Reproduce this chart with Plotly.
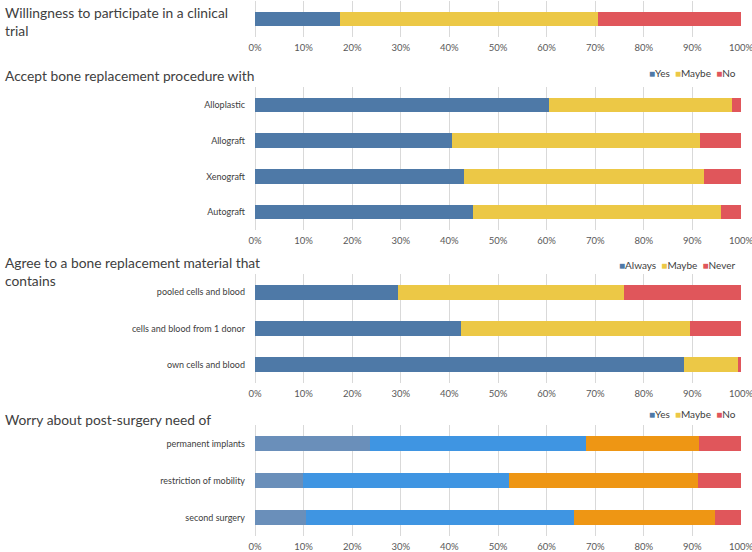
import plotly.graph_objects as go

W, H = 752, 552

# ---- data ----
p1_cats = ["trial"]
p1_yes = [17.5]
p1_maybe = [53.0]
p1_no = [29.5]

p2_cats = ["Alloplastic", "Allograft", "Xenograft", "Autograft"]
p2_yes = [60.4, 40.6, 43.1, 44.9]
p2_maybe = [37.8, 51.0, 49.2, 51.0]
p2_no = [1.8, 8.4, 7.7, 4.1]

p3_cats = ["pooled cells and blood", "cells and blood from 1 donor", "own cells and blood"]
p3_always = [29.4, 42.3, 88.3]
p3_maybe = [46.6, 47.3, 11.1]
p3_never = [24.0, 10.4, 0.6]

p4_cats = ["permanent implants", "restriction of mobility", "second surgery"]
p4_s1 = [23.7, 9.8, 10.5]
p4_s2 = [44.5, 42.5, 55.2]
p4_s3 = [23.2, 38.9, 29.0]
p4_s4 = [8.6, 8.8, 5.3]

titles = ["Willingness to participate in a clinical<br>trial",
          "Accept bone replacement procedure with",
          "Agree to a bone replacement material that<br>contains",
          "Worry about post-surgery need of"]
legend_names = [["Yes", "Maybe", "No"], ["Always", "Maybe", "Never"], ["Yes", "Maybe", "No"]]

BLUE, YELLOW, RED = "#4e79a7", "#ecc846", "#e0565b"
GRAYBLUE, BRIGHTBLUE, ORANGE = "#6a8fba", "#3f95e2", "#ee9614"
FONT = "Lato"

def py(px):
    return 1 - px / H

fig = go.Figure()

def add(cats, vals, name, color, ax):
    fig.add_trace(go.Bar(y=cats, x=vals, name=name, orientation="h",
                         marker=dict(color=color, line=dict(width=0)),
                         xaxis="x" + ax, yaxis="y" + ax, showlegend=False))

add(p1_cats, p1_yes, "Yes", BLUE, "")
add(p1_cats, p1_maybe, "Maybe", YELLOW, "")
add(p1_cats, p1_no, "No", RED, "")

add(p2_cats, p2_yes, "Yes", BLUE, "2")
add(p2_cats, p2_maybe, "Maybe", YELLOW, "2")
add(p2_cats, p2_no, "No", RED, "2")

add(p3_cats, p3_always, "Always", BLUE, "3")
add(p3_cats, p3_maybe, "Maybe", YELLOW, "3")
add(p3_cats, p3_never, "Never", RED, "3")

add(p4_cats, p4_s1, "Yes", GRAYBLUE, "4")
add(p4_cats, p4_s2, "Yes", BRIGHTBLUE, "4")
add(p4_cats, p4_s3, "Maybe", ORANGE, "4")
add(p4_cats, p4_s4, "No", RED, "4")

x0, x1 = 255 / W, 741 / W
domains = [(1, 37), (87, 230), (274, 383), (425, 536)]

xax = dict(range=[0, 100], dtick=10, ticksuffix="%", showgrid=True,
           gridcolor="#d9d9d9", gridwidth=1, zeroline=True, zerolinecolor="#d9d9d9",
           zerolinewidth=1, showline=False, ticks="", ticklabelstandoff=3,
           automargin=False, ticklabeloverflow="allow",
           tickfont=dict(family=FONT, size=9.5, color="#595959"),
           domain=[x0, x1], fixedrange=True)
layout = dict(template="none", width=W, height=H, margin=dict(l=0, r=0, t=0, b=0, pad=0),
              paper_bgcolor="white", plot_bgcolor="white",
              barmode="stack", bargap=0.59, showlegend=False,
              font=dict(family=FONT, color="#404040"))
for i, (a, b) in enumerate(domains):
    sfx = "" if i == 0 else str(i + 1)
    xa = dict(xax)
    xa["anchor"] = "y" + sfx
    ya = dict(domain=[py(b), py(a)], anchor="x" + sfx, autorange="reversed",
              showgrid=False, zeroline=False, showline=False, ticks="",
              ticklabelstandoff=9, fixedrange=True, automargin=False,
              showticklabels=(i != 0),
              tickfont=dict(family=FONT, size=9, color="#404040"))
    layout["xaxis" + sfx] = xa
    layout["yaxis" + sfx] = ya

fig.update_layout(**layout)

title_y = [22, 75, 271, 419]
for t, yy in zip(titles, title_y):
    fig.add_annotation(text=t, xref="paper", yref="paper", x=3 / W, y=py(yy),
                       xanchor="left", yanchor="middle", align="left", showarrow=False,
                       font=dict(family=FONT, size=13.8, color="#404040"))

# compact legends (Excel style: small square + label)
leg_colors = [BLUE, YELLOW, RED]
for names, yy in zip(legend_names, [73, 265, 414]):
    txt = "  ".join(f"<span style='color:{c}'>■</span>{n}" for n, c in zip(names, leg_colors))
    fig.add_annotation(text=txt, xref="paper", yref="paper", x=738 / W, y=py(yy),
                       xanchor="right", yanchor="middle", showarrow=False,
                       font=dict(family=FONT, size=10, color="#404040"))

fig.write_html("out.html", config={"displayModeBar": False})

# remove default page margins so the 752x552 figure fits the window exactly
with open("out.html", encoding="utf-8") as f:
    html = f.read()
html = html.replace("<head>", "<head><style>html,body{margin:0;padding:0;overflow:hidden}</style>", 1)
with open("out.html", "w", encoding="utf-8") as f:
    f.write(html)
